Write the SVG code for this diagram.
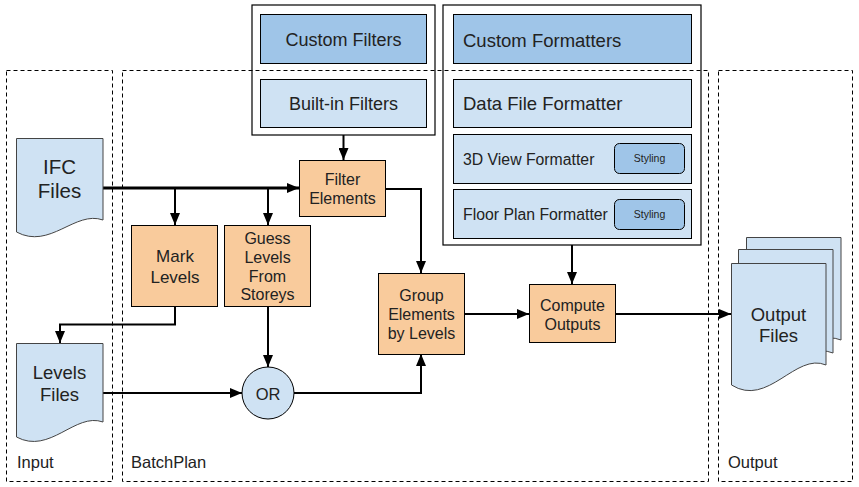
<svg xmlns="http://www.w3.org/2000/svg" width="859" height="487" viewBox="0 0 859 487">
<style>
text{font-family:"Liberation Sans",Arial,sans-serif;fill:#222;}
.c{text-anchor:middle;}
.zone{fill:none;stroke:#000;stroke-width:1;stroke-dasharray:4,3;}
.cont{fill:none;stroke:#000;stroke-width:1.2;}
.dk{fill:#9fc5e8;stroke:#000;stroke-width:1;}
.lt{fill:#cfe2f3;stroke:#000;stroke-width:1;}
.doc{fill:#cfe2f3;stroke:#444;stroke-width:1;}
.or{fill:#f9cb9c;stroke:#000;stroke-width:1;}
.ln{fill:none;stroke:#000;stroke-width:2;}
.ln3{fill:none;stroke:#000;stroke-width:3;}
.a{marker-end:url(#ah);}
</style>
<defs>
<marker id="ah" markerUnits="userSpaceOnUse" markerWidth="12" markerHeight="10" refX="12" refY="5" orient="auto">
<path d="M0,0 L12,5 L0,10 z" fill="#000"/>
</marker>
</defs>
<rect width="859" height="487" fill="#fff"/>

<g id="zone-input"><rect class="zone" x="6.5" y="70.5" width="106" height="411"/><text x="17" y="468" font-size="16.5">Input</text></g>
<g id="zone-batchplan"><rect class="zone" x="122.5" y="70.5" width="586" height="411"/><text x="131" y="468" font-size="16.5">BatchPlan</text></g>
<g id="zone-output"><rect class="zone" x="718.5" y="70.5" width="134" height="411"/><text x="728" y="468" font-size="16.5">Output</text></g>

<g id="filters">
<rect class="cont" x="252" y="5" width="183" height="130"/>
<g id="custom-filters"><rect class="dk" x="260.5" y="14.5" width="166" height="49"/><text class="c" x="343.5" y="46" font-size="18">Custom Filters</text></g>
<g id="builtin-filters"><rect class="lt" x="260.5" y="79.5" width="166" height="48"/><text class="c" x="343.5" y="110" font-size="18">Built-in Filters</text></g>
</g>

<g id="formatters">
<rect class="cont" x="443" y="5" width="258" height="240"/>
<g id="custom-formatters"><rect class="dk" x="453.5" y="14.5" width="238" height="49"/><text x="463" y="47" font-size="18.5">Custom Formatters</text></g>
<g id="data-file-formatter"><rect class="lt" x="453.5" y="79.5" width="238" height="48"/><text x="463" y="110" font-size="18.5">Data File Formatter</text></g>
<g id="view3d-formatter"><rect class="lt" x="453.5" y="134.5" width="238" height="49"/><text x="463" y="165" font-size="15.8">3D View Formatter</text>
<rect class="dk" x="614.5" y="143.5" width="70" height="30" rx="5"/><text class="c" x="649.5" y="162" font-size="10.5">Styling</text></g>
<g id="floorplan-formatter"><rect class="lt" x="453.5" y="189.5" width="238" height="49"/><text x="463" y="220" font-size="15.8">Floor Plan Formatter</text>
<rect class="dk" x="614.5" y="199.5" width="70" height="30" rx="5"/><text class="c" x="649.5" y="218" font-size="10.5">Styling</text></g>
</g>

<g id="connectors">
<path class="ln3 a" d="M103,188 H299"/>
<path class="ln a" d="M175,188 V225"/>
<path class="ln a" d="M268,188 V225"/>
<path class="ln a" d="M343.5,135 V160"/>
<path class="ln a" d="M386,189 H421 V273"/>
<path class="ln a" d="M175,307 V324.5 H60 V343"/>
<path class="ln a" d="M103,393 H242"/>
<path class="ln a" d="M268,307 V367"/>
<path class="ln a" d="M294,393 H421 V354"/>
<path class="ln a" d="M465,314 H529"/>
<path class="ln a" d="M572,245 V284"/>
<path class="ln a" d="M616,314 H731"/>
</g>

<g id="ifc-files">
<path class="doc" d="M16.5,138.5 H103 V220 C75,210 50,250 16.5,232 Z"/>
<text class="c" x="59.5" y="174" font-size="20.5">IFC</text>
<text class="c" x="59.5" y="198" font-size="20.5">Files</text>
</g>

<g id="levels-files">
<path class="doc" d="M16.5,343.5 H103 V422 C75,412 50,455 16.5,437 Z"/>
<text class="c" x="59.5" y="379" font-size="18.5">Levels</text>
<text class="c" x="59.5" y="401" font-size="18.5">Files</text>
</g>

<g id="output-files">
<path class="doc" d="M746.5,237.5 H841 V340 C810,327 783,383 746.5,360 Z"/>
<path class="doc" d="M738.5,249.5 H833 V353 C802,340 775,396 738.5,373 Z"/>
<path class="doc" d="M731.5,263.5 H826 V365 C795.6,352 768,408 731.5,385 Z"/>
<text class="c" x="778.5" y="321" font-size="18.5">Output</text>
<text class="c" x="778.5" y="342" font-size="18.5">Files</text>
</g>

<g id="filter-elements"><rect class="or" x="299.5" y="160.5" width="86" height="56"/>
<text class="c" x="342.5" y="185" font-size="16">Filter</text><text class="c" x="342.5" y="204" font-size="16">Elements</text></g>

<g id="mark-levels"><rect class="or" x="131.5" y="225.5" width="86" height="81"/>
<text class="c" x="175" y="262" font-size="17">Mark</text><text class="c" x="175" y="283" font-size="17">Levels</text></g>

<g id="guess-levels"><rect class="or" x="224.5" y="225.5" width="86" height="81"/>
<text class="c" x="267.5" y="244" font-size="16">Guess</text><text class="c" x="267.5" y="263" font-size="16">Levels</text>
<text class="c" x="267.5" y="282" font-size="16">From</text><text class="c" x="267.5" y="300" font-size="16">Storeys</text></g>

<g id="group-elements"><rect class="or" x="378.5" y="273.5" width="86" height="81"/>
<text class="c" x="421.5" y="301" font-size="16">Group</text><text class="c" x="421.5" y="320" font-size="16">Elements</text>
<text class="c" x="421.5" y="339" font-size="16">by Levels</text></g>

<g id="compute-outputs"><rect class="or" x="529.5" y="284.5" width="86" height="58"/>
<text class="c" x="572.5" y="311" font-size="16">Compute</text><text class="c" x="572.5" y="330" font-size="16">Outputs</text></g>

<g id="or-node"><circle cx="268" cy="393" r="26" fill="#cfe2f3" stroke="#000" stroke-width="1"/>
<text class="c" x="268" y="399.5" font-size="16.5">OR</text></g>
</svg>
